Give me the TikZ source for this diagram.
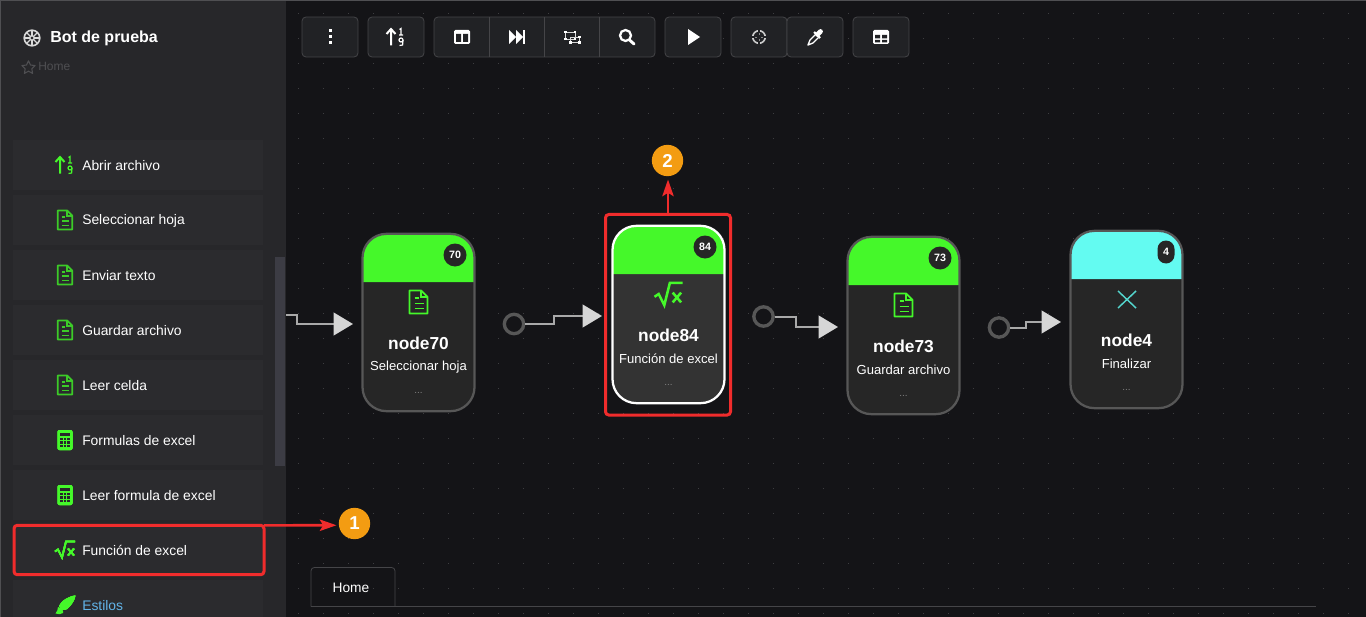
\documentclass[tikz,border=0pt]{standalone}
\usepackage{fontspec}
\setmainfont{Liberation Sans}
\usetikzlibrary{arrows.meta}

\definecolor{canvasbg}{HTML}{141417}
\definecolor{sidebg}{HTML}{27272A}
\definecolor{itembg}{HTML}{2B2B2E}
\definecolor{scrollbg}{HTML}{3C3C44}
\definecolor{griddot}{HTML}{3E3E41}
\definecolor{btnbg}{HTML}{212225}
\definecolor{btnedge}{HTML}{454548}
\definecolor{limegreen}{HTML}{45F82A}
\definecolor{docgreen}{HTML}{3CCB28}
\definecolor{aqua}{HTML}{63FBF1}
\definecolor{cardbg}{HTML}{262626}
\definecolor{cardsel}{HTML}{333333}
\definecolor{cardedge}{HTML}{575757}
\definecolor{wiregray}{HTML}{A9A9A9}
\definecolor{tipgray}{HTML}{D6D6D6}
\definecolor{markred}{HTML}{F02C2C}
\definecolor{markorange}{HTML}{F39C12}
\definecolor{linkblue}{HTML}{62B4E8}
\definecolor{mutedgray}{HTML}{4F4F52}

\tikzset{
  x=0.75pt,y=-0.75pt,
  sideitem/.style={fill=itembg,minimum width=187.5pt,minimum height=37.5pt,inner sep=0pt},
  sidelabel/.style={anchor=west,text=white,font=\fontsize{10.4}{12}\selectfont,inner sep=0pt},
  toolbtn/.style={draw=btnedge,fill=btnbg,line width=0.6pt,rounded corners=3pt,minimum height=30pt,inner sep=0pt},
  cardtitle/.style={text=white,font=\bfseries\fontsize{13}{15}\selectfont,inner sep=0pt},
  cardsub/.style={text=white,font=\fontsize{9.8}{12}\selectfont,inner sep=0pt},
  cardmore/.style={text=gray,font=\fontsize{7.5}{9}\selectfont,inner sep=0pt},
  portdot/.style={circle,draw=cardedge,line width=2.5pt,minimum size=14.5pt,inner sep=0pt},
  wire/.style={draw=wiregray,line width=1.5pt,-{Triangle[length=14.5pt,width=17pt,color=tipgray]}},
  markbox/.style={draw=markred,line width=2.25pt,rounded corners=2.5pt,inner sep=0pt,outer sep=0pt},
  markarrow/.style={draw=markred,line width=1.9pt,-{Stealth[length=12.5pt,width=8.5pt,inset=2.5pt,color=markred]}},
  markbadge/.style={circle,fill=markorange,text=white,minimum size=23.5pt,inner sep=0pt,font=\bfseries\fontsize{14}{16}\selectfont},
}

% Icons, drawn around (#1,#2)
\newcommand{\docicon}[4]{\begin{scope}[shift={(#1,#2)},scale=#3]
  \draw[#4,line width=1.3pt,line join=round] (-7,-9) -- (2,-9) -- (7,-4) -- (7,9) -- (-7,9) -- cycle;
  \draw[#4,line width=1.1pt] (2,-9) -- (2,-4) -- (7,-4) (-3,-3) -- (0,-3) (-3,1) -- (4,1) (-3,5) -- (4,5);
\end{scope}}
\newcommand{\calcicon}[2]{\begin{scope}[shift={(#1,#2)}]
  \fill[limegreen,rounded corners=1.5pt] (-7.5,-10) rectangle (7.5,10);
  \fill[sidebg] (-5,-7.5) rectangle (5,-4.5);
  \foreach \gx in {-5,-1.3,2.4} \foreach \gy in {-2.5,1,4.5} \fill[sidebg] (\gx,\gy) rectangle ++(2.6,2.5);
\end{scope}}
\newcommand{\sqrticon}[4]{\begin{scope}[shift={(#1,#2)},scale=#3]
  \draw[limegreen,line width=#4,line join=miter] (-10,2) -- (-7,0) -- (-3,8) -- (1,-8) -- (10,-8);
  \draw[limegreen,line width=#4] (3,-1) -- (9,6) (9,-1) -- (3,6);
\end{scope}}
\newcommand{\sorticon}[3]{\begin{scope}[shift={(#1,#2)}]
  \draw[#3,line width=1.5pt] (-5,8.5) -- (-5,-7) (-9.5,-3) -- (-5,-8) -- (-0.5,-3);
  \draw[#3,line width=0.9pt] (3.5,-7.5) -- (5,-8.5) -- (5,-2) (3,-2) -- (7,-2);
  \draw[#3,line width=0.9pt] (5,3) circle[radius=2];
  \draw[#3,line width=0.9pt] (7,3) -- (6.6,8) -- (3.5,8.5);
\end{scope}}

% One flow card: name, centre x, top y, header, edge, body, number, caption, badge width
\newcommand{\flowcard}[9]{
  \path[fill=#6,rounded corners=18pt] ({#2-56},{#3+1}) rectangle ({#2+56},{#3+178});
  \fill[#4] ({#2-56},{#3+49}) [rounded corners=18pt] -- ({#2-56},{#3+1}) -- ({#2+56},{#3+1}) [sharp corners] -- ({#2+56},{#3+49}) -- cycle;
  \node[draw=#5,line width=1.7pt,rounded corners=18pt,minimum width=84pt,minimum height=133pt,inner sep=0pt] (#1) at (#2,{#3+89.5}) {};
  \node[fill=cardbg,rounded corners={#9*0.375pt},minimum width={#9*0.75pt},minimum height=17.25pt,inner sep=0pt,text=white,font=\bfseries\fontsize{8}{9}\selectfont] (#1num) at ({#2+36.5+(23-#9)/2},{#3+22}) {#7};
  \node[cardtitle] (#1title) at (#2,{#3+110}) {#1};
  \node[cardsub] (#1sub) at (#2,{#3+134}) {#8};
  \node[cardmore] (#1more) at (#2,{#3+160}) {...};
}

\begin{document}
\begin{tikzpicture}
\useasboundingbox (0,0) rectangle (1366,617);
\fill[canvasbg] (0,0) rectangle (1366,617);

% Grid of dots
\foreach \gx in {298,323,...,1348} \foreach \gy in {13,38,...,613}
  \fill[griddot] (\gx,\gy) rectangle ++(1,1);

% Sidebar
\fill[sidebg] (1,1) rectangle (285.5,617);
\fill[mutedgray] (0,0) rectangle (1366,1.3);
\fill[mutedgray] (0,0) rectangle (1,617);
\fill[scrollbg] (275,257) rectangle (285,466);

\draw[white!85!black,line width=1.2pt] (32,38) circle[radius=7.8];
\foreach \ang in {0,45,...,315} \draw[white!85!black,line width=0.9pt] (32,38) ++(\ang:2) -- ++(\ang:6);
\draw[white!85!black,line width=0.9pt] (32,38) circle[radius=2.2];
\node[anchor=west,text=white,inner sep=0pt,font=\bfseries\fontsize{12}{14}\selectfont] (bottitle) at (50,38) {Bot de prueba};
\draw[mutedgray,line width=0.8pt,line join=round] (28.5,60.8) -- ++(2,4.2) -- ++(4.6,0.6) -- ++(-3.3,3.2) -- ++(0.8,4.6) -- ++(-4.1,-2.2) -- ++(-4.1,2.2) -- ++(0.8,-4.6) -- ++(-3.3,-3.2) -- ++(4.6,-0.6) -- cycle;
\node[anchor=west,text=mutedgray,inner sep=0pt,font=\fontsize{9}{11}\selectfont] (homecrumb) at (38,66.5) {Home};

\foreach \ypos/\lbl/\idx in {165/Abrir archivo/1,220/Seleccionar hoja/2,275/Enviar texto/3,330/Guardar archivo/4,385/Leer celda/5,440/Formulas de excel/6,495/Leer formula de excel/7,550/Función de excel/8}{
  \node[sideitem] (item\idx) at (138,\ypos) {};
  \node[sidelabel] (label\idx) at (82,\ypos+0.5) {\lbl};
}
\node[sideitem,anchor=north] (item9) at (138,580) {};
\node[sidelabel,text=linkblue] (label9) at (82,605.5) {Estilos};

\sorticon{65}{165}{limegreen}
\foreach \ypos in {220,275,330,385} \docicon{65}{\ypos}{1.05}{docgreen}
\calcicon{65}{440}
\calcicon{65}{495}
\sqrticon{65}{549.5}{1}{1.3pt}
% Brush
\fill[limegreen] (75.5,595.5) .. controls (69,596) and (61,601) .. (59,606) .. controls (61,610) and (64,611) .. (67,609) .. controls (71,606) and (75,600) .. (75.5,595.5) -- cycle;
\fill[limegreen] (58,607) .. controls (62,608) and (64,611) .. (63,613) .. controls (61,614.5) and (58,614.5) .. (55.5,613.5) .. controls (57.5,612) and (57.5,609) .. (58,607) -- cycle;

% Toolbar
\node[toolbtn,minimum width=42pt] (btnmenu) at (330,37) {};
\node[toolbtn,minimum width=42pt] (btnsort) at (396,37) {};
\node[toolbtn,minimum width=165.75pt] (btngroup) at (544.5,37) {};
\node[toolbtn,minimum width=42pt] (btnplay) at (693,37) {};
\node[toolbtn,minimum width=42pt] (btntarget) at (759,37) {};
\node[toolbtn,minimum width=42pt] (btnpicker) at (815,37) {};
\node[toolbtn,minimum width=42pt] (btntable) at (881,37) {};
\foreach \gx in {489.5,544.5,599.5} \draw[btnedge,line width=0.6pt] (\gx,17) -- (\gx,57);

\foreach \gy in {31,37,43} \fill[white] (328.5,\gy-1.5) rectangle ++(3,3);
\sorticon{396}{37}{white}
% Panels
\fill[white,rounded corners=1pt] (454,30) rectangle (470,44);
\fill[btnbg] (456,34) rectangle (461,42) (463,34) rectangle (468,42);
% Skip
\fill[white] (509,30) -- (516,37) -- (509,44) -- cycle (516,30) -- (523,37) -- (516,44) -- cycle;
\fill[white] (523,30) rectangle (525,44);
% Transform
\draw[white!85!black,line width=0.6pt] (565.5,32) rectangle (575,39) (570.5,37) rectangle (579.5,42.5);
\foreach \gx/\gy in {565.5/32,575/32,565.5/39,575/39,579.5/37,570.5/42.5,579.5/42.5} \fill[white] (\gx-1.3,\gy-1.3) rectangle ++(2.6,2.6);
% Search
\draw[white,line width=1.7pt] (625.5,35.5) circle[radius=5.5];
\draw[white,line width=2.2pt,line cap=round] (629.5,40) -- (634,44);
\fill[white] (688,29) -- (700,37) -- (688,45) -- cycle;
% Target
\draw[white!80!black,line width=1.2pt] (759,37) circle[radius=6.3];
\foreach \ang in {0,90,180,270} \draw[btnbg,line width=1.2pt] (759,37) ++(\ang:4.5) -- ++(\ang:3.5);
\foreach \ang in {0,90,180,270} \draw[white!55!black,line width=0.6pt] (759,37) ++(\ang:2) -- ++(\ang:2);
% Dropper
\draw[white,line width=1pt,line join=round] (815.5,34.5) -- (810,40) -- (808,45) -- (813,43) -- (818.5,37.5);
\draw[white,line width=1.6pt] (814,32) -- (820,38);
\draw[white,line width=3.6pt,line cap=round] (817.5,34.5) -- (820.5,31.5);
% Table
\fill[white,rounded corners=1pt] (873,30) rectangle (889,44);
\fill[btnbg] (875,35) rectangle (880,38.5) (882,35) rectangle (887,38.5) (875,40) rectangle (880,42.5) (882,40) rectangle (887,42.5);

% Tab
\draw[btnedge,line width=0.6pt,rounded corners=2.5pt] (311,606.5) -- (311,567.5) -- (395,567.5) -- (395,606.5);
\draw[btnedge,line width=0.6pt] (311,606.5) -- (1316,606.5);
\node[text=white,inner sep=0pt,font=\fontsize{10.3}{12}\selectfont] (tabhome) at (351,588) {Home};

% Cards
\flowcard{node70}{418.5}{233}{limegreen}{cardedge}{cardbg}{70}{Seleccionar hoja}{23}
\flowcard{node84}{668.5}{225}{limegreen}{white}{cardsel}{84}{Función de excel}{23}
\flowcard{node73}{903.5}{236}{limegreen}{cardedge}{cardbg}{73}{Guardar archivo}{23}
\flowcard{node4}{1126.5}{230}{aqua}{cardedge}{cardbg}{4}{Finalizar}{17}
\docicon{418.5}{302}{1.28}{limegreen}
\sqrticon{668.5}{294}{1.4}{1.9pt}
\docicon{903.5}{305}{1.28}{limegreen}
\draw[aqua!85!black,line width=1.1pt] (1118,291) -- (1136,308) (1136,291) -- (1118,308);

% Connectors
\coordinate (in70) at (353,324);
\coordinate (in84) at (602,316);
\coordinate (in73) at (838,327);
\coordinate (in4) at (1061,322);
\coordinate (out0) at (286,315);
\node[portdot] (out70) at (514,324) {};
\node[portdot] (out84) at (763.5,316.5) {};
\node[portdot] (out73) at (999,327.5) {};
\draw[wire] (out0) -| (297,324) -- (in70);
\draw[wire] (out70) -| (554,316) -- (in84);
\draw[wire] (out84) -| (796,327) -- (in73);
\draw[wire] (out73) -| (1026,322) -- (in4);

% Red marks
\node[markbox,minimum width=187.5pt,minimum height=37.1pt] (mark1) at (139,550) {};
\node[markbox,minimum width=93.75pt,minimum height=150.4pt] (mark2) at (668,314.75) {};
\node[markbadge] (badge1) at (354.5,523.5) {1};
\node[markbadge] (badge2) at (667.5,160.5) {2};
\coordinate (tip1) at (336.5,525.25);
\coordinate (tip2) at (668,179.5);
\draw[markarrow] (mark1.north east) -- (tip1);
\draw[markarrow] (mark2.north) -- (tip2);
\end{tikzpicture}
\end{document}
